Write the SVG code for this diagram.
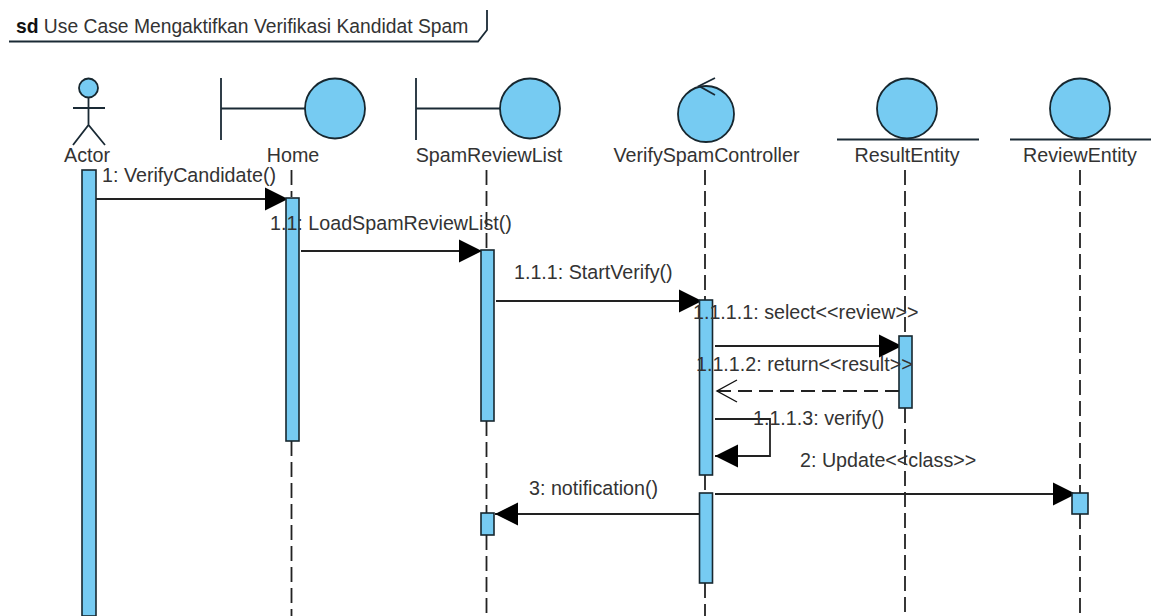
<svg xmlns="http://www.w3.org/2000/svg" width="1154" height="616" viewBox="0 0 1154 616">
<defs>
<marker id="fill" markerUnits="userSpaceOnUse" markerWidth="26" markerHeight="26" refX="23" refY="12" orient="auto"><path d="M0 0.500L23 12L0 23.500Z" fill="#000"/></marker>
<marker id="open" markerUnits="userSpaceOnUse" markerWidth="24" markerHeight="26" refX="22" refY="12" orient="auto"><path d="M1 1L21 12L1 23" fill="none" stroke="#111" stroke-width="1.4"/></marker>
</defs>
<style>
text{font-family:"Liberation Sans",Arial,sans-serif;font-size:19.7px;fill:#333}
.c{text-anchor:middle}
.s{stroke:#1a2a35;stroke-width:1.8;fill:none}
.f{fill:#76cbf2;stroke:#17272f;stroke-width:1.8}
.a{fill:#76cbf2;stroke:#17272f;stroke-width:1.6}
.ll{stroke:#222;stroke-width:1.8;stroke-dasharray:15 6;fill:none}
.m{stroke:#222;stroke-width:1.8;fill:none}
</style>
<rect width="1154" height="616" fill="#fff"/>
<g id="frame">
<path class="s" d="M9 41.500H478L487 30V10"/>
<text x="16" y="33" style="font-size:19.300px"><tspan font-weight="bold" fill="#111">sd</tspan> Use Case Mengaktifkan Verifikasi Kandidat Spam</text>
</g>
<g id="connectors">
<path class="ll" d="M291.500 170V197M291.500 441V616"/>
<path class="ll" d="M486.500 170V249M486.500 421V513M486.500 535V616"/>
<path class="ll" d="M705 170V300M705 475V493M705 583V616"/>
<path class="ll" d="M905 170V336M905 408V616"/>
<path class="ll" d="M1080 170V493M1080 514V616"/>
<path class="m" d="M96 199H288" marker-end="url(#fill)"/>
<path class="m" d="M301 251H482" marker-end="url(#fill)"/>
<path class="m" d="M496 301H702" marker-end="url(#fill)"/>
<path class="m" d="M715 346H902" marker-end="url(#fill)"/>
<path class="m" d="M899 391H716" stroke-dasharray="14 7" marker-end="url(#open)"/>
<path class="m" d="M715 419H770V456H715" marker-end="url(#fill)"/>
<path class="m" d="M715 494H1076" marker-end="url(#fill)"/>
<path class="m" d="M699 514H495" marker-end="url(#fill)"/>
</g>
<g id="actor">
<circle class="f" cx="88.500" cy="88" r="9.500"/>
<path class="s" d="M88.500 97.500V125M73 108H105M73 145L88.500 125L105 145"/>
<text class="c" x="87" y="162">Actor</text>
<rect class="a" x="82" y="170" width="14" height="446"/>
</g>
<g id="home">
<path class="s" d="M221 78V140M221 108.500H305"/>
<circle class="f" cx="335" cy="108.500" r="30"/>
<text class="c" x="293" y="162">Home</text>
<rect class="a" x="286" y="198" width="13" height="243"/>
</g>
<g id="spamreviewlist">
<path class="s" d="M416 78V140M416 108.500H500"/>
<circle class="f" cx="530" cy="108.500" r="30"/>
<text class="c" x="489" y="162">SpamReviewList</text>
<rect class="a" x="481" y="250" width="13" height="171"/>
<rect class="a" x="481" y="513" width="13" height="22"/>
</g>
<g id="verifyspamcontroller">
<circle class="f" cx="706" cy="114" r="28"/>
<path class="s" d="M715 78L699 86L715 95"/>
<text class="c" x="706.500" y="162">VerifySpamController</text>
<rect class="a" x="699.500" y="300" width="13" height="175"/>
<rect class="a" x="699.500" y="493" width="13" height="90"/>
</g>
<g id="resultentity">
<circle class="f" cx="907" cy="108.500" r="30"/>
<path class="s" d="M837 139.500H979"/>
<text class="c" x="907" y="162">ResultEntity</text>
<rect class="a" x="899" y="336" width="13" height="72"/>
</g>
<g id="reviewentity">
<circle class="f" cx="1080" cy="108.500" r="30"/>
<path class="s" d="M1010 139.500H1151"/>
<text class="c" x="1080" y="162">ReviewEntity</text>
<rect class="a" x="1072" y="493" width="16" height="21"/>
</g>
<g id="labels">
<text x="102" y="182">1: VerifyCandidate()</text>
<text x="270" y="230">1.1: LoadSpamReviewList()</text>
<text x="514" y="279">1.1.1: StartVerify()</text>
<text x="693" y="319">1.1.1.1: select&lt;&lt;review&gt;&gt;</text>
<text x="696" y="371">1.1.1.2: return&lt;&lt;result&gt;&gt;</text>
<text x="753" y="425">1.1.1.3: verify()</text>
<text x="800" y="467">2: Update&lt;&lt;class&gt;&gt;</text>
<text x="529" y="495">3: notification()</text>
</g>
</svg>
